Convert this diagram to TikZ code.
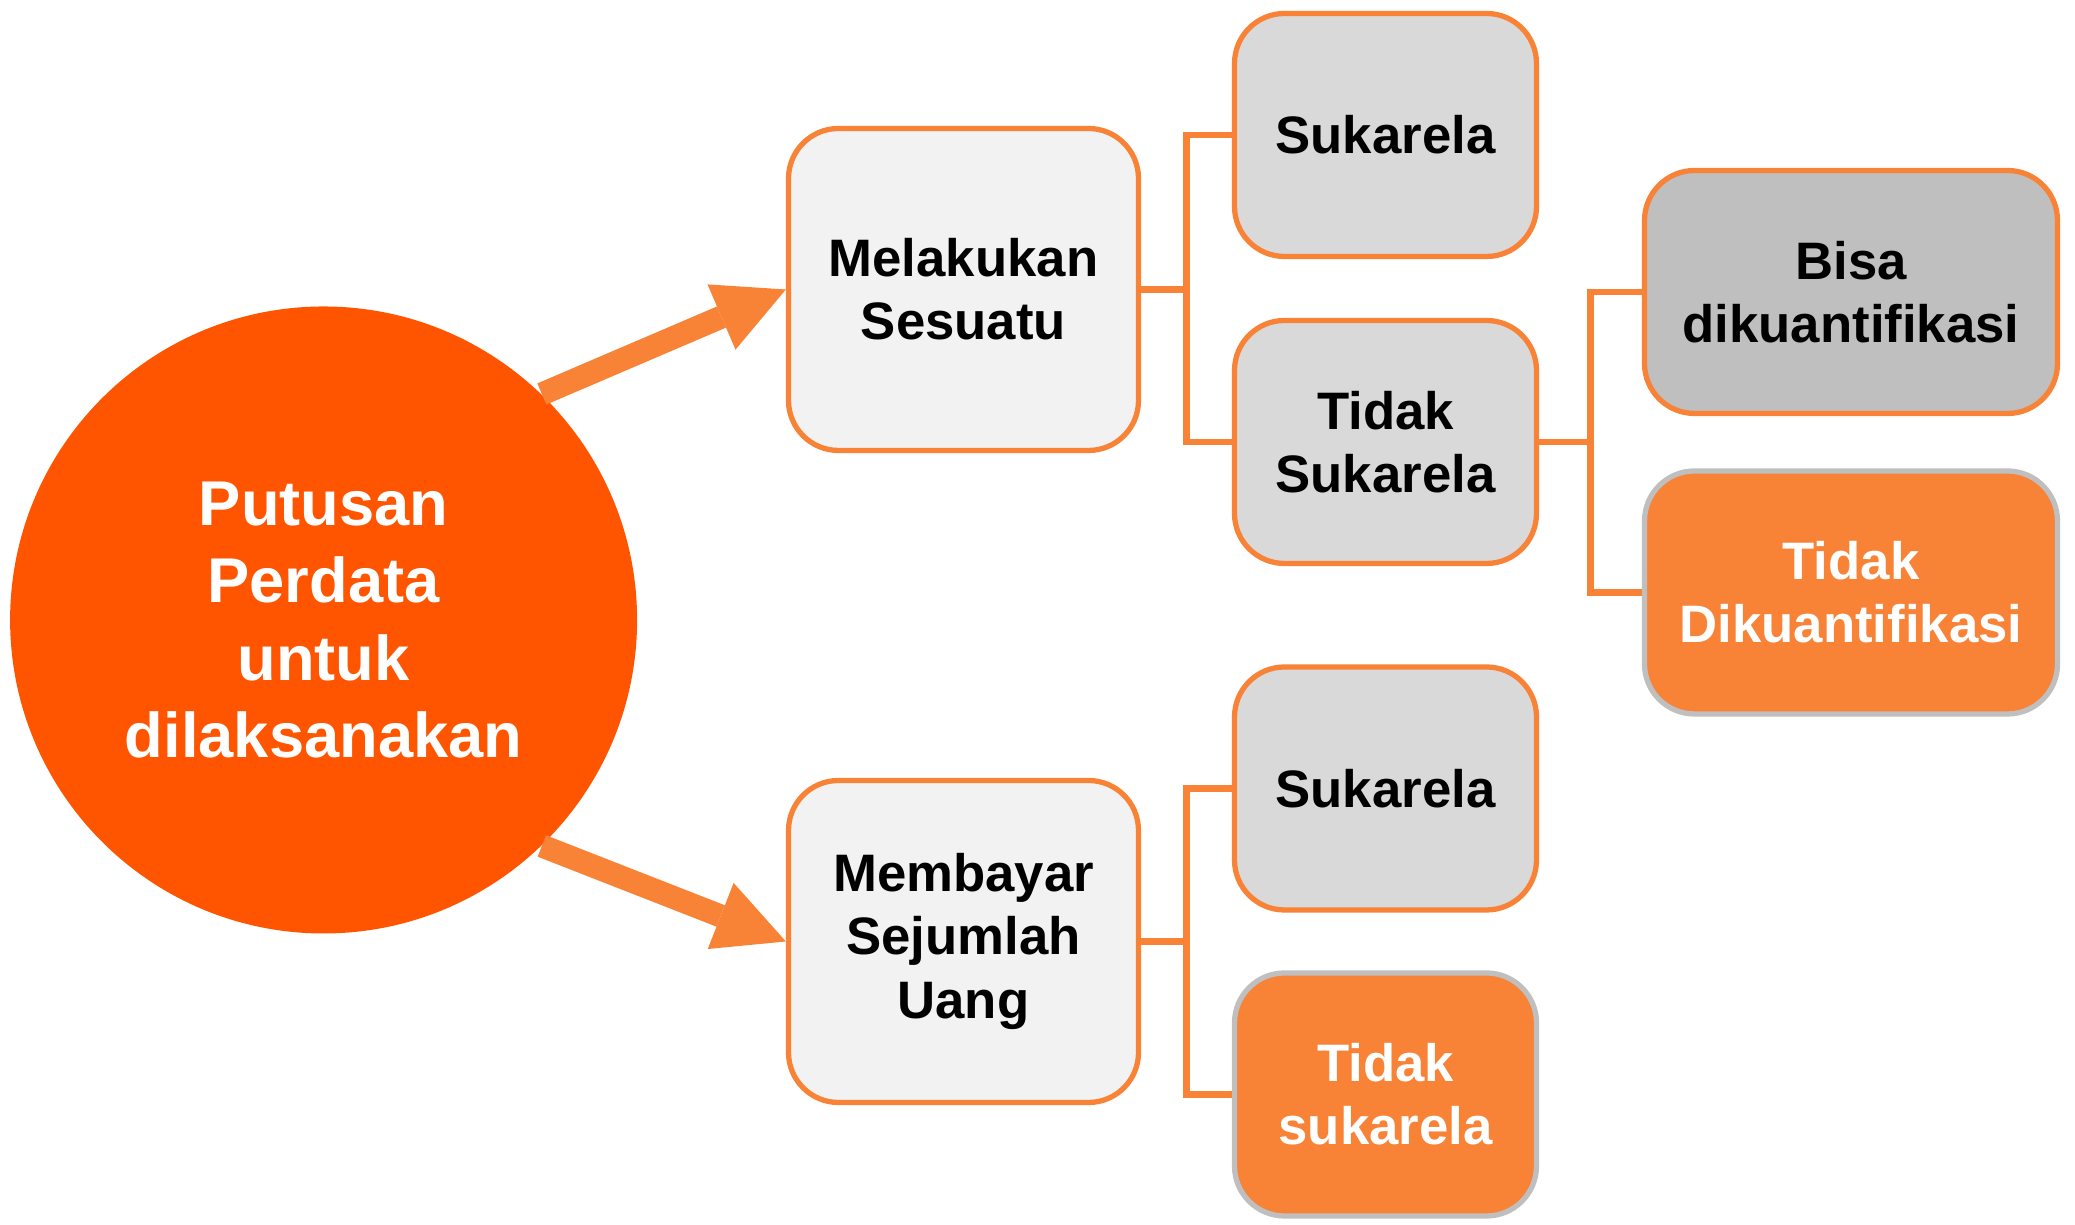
\documentclass[tikz,border=0pt]{standalone}
\usepackage{fontspec}
\setmainfont{Liberation Sans}
\usepackage{xcolor}
\usetikzlibrary{shapes,arrows,positioning,calc,arrows.meta}

\definecolor{putusan}{RGB}{255,85,0}
\definecolor{oranye}{RGB}{248,130,54}
\definecolor{abuterang}{RGB}{242,242,242}
\definecolor{abu}{RGB}{217,217,217}
\definecolor{abugelap}{RGB}{191,191,191}

\tikzset{
  kotak/.style={draw=oranye, line width=1.5pt, rounded corners=0.5cm, align=center,
    inner sep=0pt, font=\fontsize{15}{18}\selectfont\bfseries},
  induk/.style={kotak, fill=abuterang, minimum width=3.5cm, minimum height=3.22cm},
  pilihan/.style={kotak, fill=abu, minimum width=3.02cm, minimum height=2.43cm},
  tidak/.style={kotak, draw=abugelap, fill=oranye, text=white},
  cabang/.style={draw=oranye, line width=1.9pt},
  panah/.style={oranye, line width=0.23cm, -{Triangle[length=0.7cm,width=0.71cm,line width=0pt]}}
}

\begin{document}
\begin{tikzpicture}
    \useasboundingbox (0,0) rectangle (20.75,12.25);

    % Circle
    \node [circle, fill=putusan, minimum size=6.27cm, inner sep=0pt, align=center, text=white,
           font=\fontsize{18}{22}\selectfont\bfseries] (putusan) at (3.236,6.05)
           {Putusan\\Perdata\\untuk\\dilaksanakan};

    % Level 1
    \node [induk] (melakukan) at (9.635,9.355) {Melakukan\\Sesuatu};
    \node [induk] (membayar) at (9.635,2.835) {Membayar\\Sejumlah\\Uang};

    % Level 2
    \node [pilihan] (sukarela) at (13.855,10.90) {Sukarela};
    \node [pilihan] (tidaksukarela) at (13.855,7.83) {Tidak\\Sukarela};
    \node [pilihan] (sukarelauang) at (13.855,4.365) {Sukarela};
    \node [pilihan, tidak] (tidaksukarelauang) at (13.855,1.305) {Tidak\\sukarela};

    % Level 3
    \node [pilihan, minimum width=4.13cm, fill=abugelap] (bisa) at (18.51,9.33) {Bisa\\dikuantifikasi};
    \node [pilihan, tidak, minimum width=4.13cm] (tidakbisa) at (18.51,6.325) {Tidak\\Dikuantifikasi};

    % Arrows
    \draw [panah] (putusan.46) -- (melakukan.west);
    \draw [panah] (putusan.-46) -- (membayar.west);

    % Branches
    \draw [cabang] (melakukan.east) -- ++(0.455,0) |- (sukarela.west);
    \draw [cabang] (melakukan.east) -- ++(0.455,0) |- (tidaksukarela.west);
    \draw [cabang] (tidaksukarela.east) -- ++(0.515,0) |- (bisa.west);
    \draw [cabang] (tidaksukarela.east) -- ++(0.515,0) |- (tidakbisa.west);
    \draw [cabang] (membayar.east) -- ++(0.455,0) |- (sukarelauang.west);
    \draw [cabang] (membayar.east) -- ++(0.455,0) |- (tidaksukarelauang.west);
\end{tikzpicture}
\end{document}
